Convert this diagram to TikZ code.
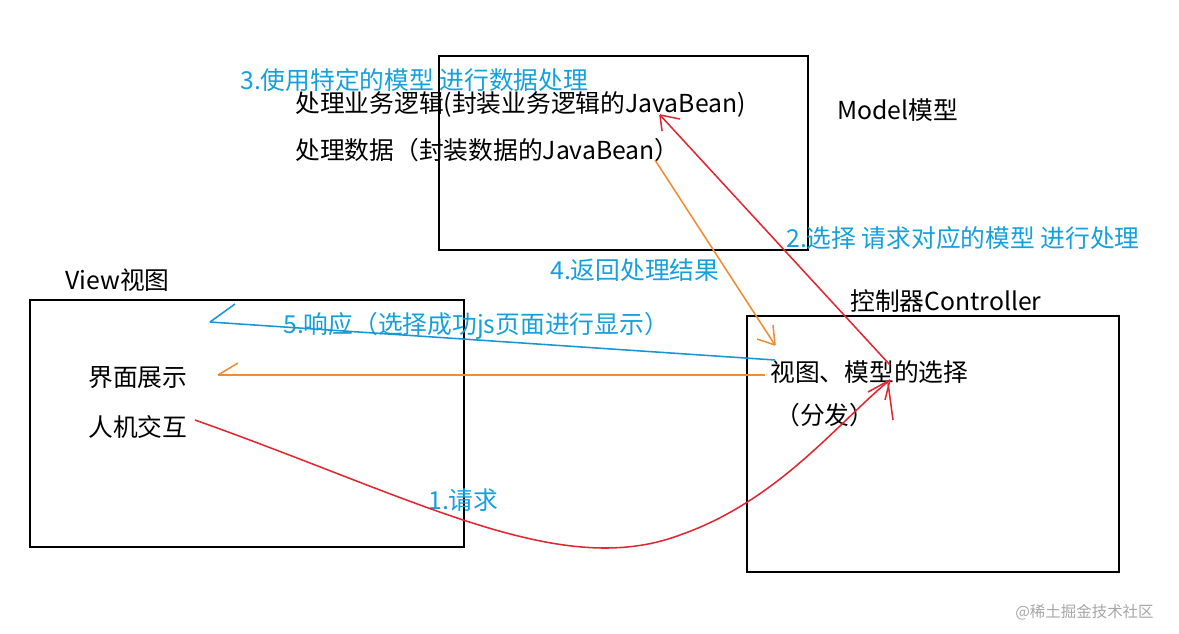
\documentclass[tikz,border=0pt]{standalone}
\usepackage{fontspec}
\setmainfont{Noto Sans CJK SC}
\begin{document}
\begin{tikzpicture}[x=0.025cm,y=-0.025cm,
  box/.style={draw,line width=1.3pt},
  txt/.style={anchor=west,inner sep=0,font=\fontsize{17.6}{19}\selectfont},
  btxt/.style={txt,text={rgb,255:red,20;green,160;blue,220}},
  red/.style={draw={rgb,255:red,225;green,40;blue,50},line width=1.1pt},
  org/.style={draw={rgb,255:red,240;green,140;blue,50},line width=1.1pt},
  blu/.style={draw={rgb,255:red,20;green,150;blue,215},line width=1.1pt}]
\useasboundingbox (0,0) rectangle (1179,633);
\draw[box] (439,56) rectangle (808,250);
\draw[box] (30,300) rectangle (464,547);
\draw[box] (747,316) rectangle (1119,572);
\node[btxt] (t3) at (240,80) {3.使用特定的模型 进行数据处理};
\node[txt] (m1) at (295,104) {处理业务逻辑(封装业务逻辑的JavaBean)};
\node[txt] (m2) at (295,150) {处理数据（封装数据的JavaBean）};
\node[txt] (mm) at (837,110) {Model模型};
\node[btxt] (t2) at (786,238) {2.选择 请求对应的模型 进行处理};
\node[btxt] (t4) at (550,270) {4.返回处理结果};
\node[txt] (vv) at (65,280) {View视图};
\node[txt] (cc) at (850,301) {控制器Controller};
\node[btxt] (t5) at (283,326) {5.响应（选择成功js页面进行显示）};
\node[txt] (v1) at (88,378) {界面展示};
\node[txt] (v2) at (88,427) {人机交互};
\node[txt] (c1) at (770,372) {视图、模型的选择};
\node[txt] (c2) at (775,415) {（分发）};
\node[btxt] (t1) at (428,500) {1.请求};
\node[txt,text=gray!70,font=\fontsize{11}{12}\selectfont] (wm) at (1015,612) {@稀土掘金技术社区};
% red: request
\coordinate (r0) at (195,420); \coordinate (r1) at (890,380);
\draw[red] (r0) .. controls (420,500) and (560,580) .. (680,535) .. controls (780,500) and (840,420) .. (r1);
\draw[red] (r1) -- ++(-22,12) (r1) -- ++(-5,20);
\draw[red] (893,420) -- (888,383);
% red: choose model
\coordinate (r2) at (890,365); \coordinate (r3) at (660,115);
\draw[red] (r2) -- (r3);
\draw[red] (r3) -- ++(20,4) (r3) -- ++(2,16);
% orange: return
\coordinate (o0) at (655,160); \coordinate (o1) at (775,345);
\draw[org] (o0) -- (o1);
\draw[org] (o1) -- ++(-18,-6) (o1) -- ++(-2,-20);
\coordinate (o2) at (765,375); \coordinate (o3) at (218,375);
\draw[org] (o2) -- (o3);
\draw[org] (o3) -- ++(20,-12);
% blue: response
\coordinate (b0) at (775,360); \coordinate (b1) at (210,322);
\draw[blu] (b0) -- (b1);
\draw[blu] (b1) -- ++(25,-18);
\end{tikzpicture}
\end{document}
